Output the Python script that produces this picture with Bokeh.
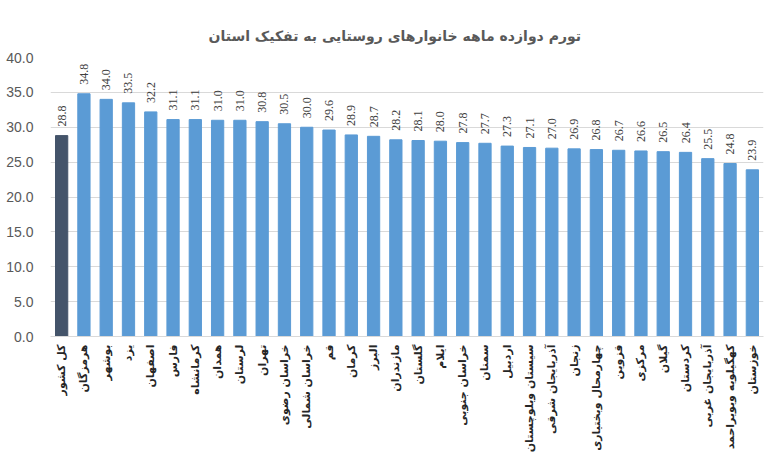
import math
from bokeh.plotting import figure
from bokeh.models import ColumnDataSource, SingleIntervalTicker, PrintfTickFormatter, Range1d, FactorRange
from bokeh.embed import file_html
from bokeh.resources import INLINE

title_text = "تورم دوازده ماهه خانوارهای روستایی به تفکیک استان"

provinces = [
    "کل کشور", "هرمزگان", "بوشهر", "یزد", "اصفهان", "فارس", "کرمانشاه", "همدان",
    "لرستان", "تهران", "خراسان رضوی", "خراسان شمالی", "قم", "کرمان", "البرز",
    "مازندران", "گلستان", "ایلام", "خراسان جنوبی", "سمنان", "اردبیل",
    "سیستان وبلوچستان", "آذربایجان شرقی", "زنجان", "چهارمحال وبختیاری", "قزوین",
    "مرکزی", "گیلان", "کردستان", "آذربایجان غربی", "کهگیلویه وبویراحمد", "خوزستان",
]
inflation = [
    28.8, 34.8, 34.0, 33.5, 32.2, 31.1, 31.1, 31.0, 31.0, 30.8, 30.5, 30.0, 29.6,
    28.9, 28.7, 28.2, 28.1, 28.0, 27.8, 27.7, 27.3, 27.1, 27.0, 26.9, 26.8, 26.7,
    26.6, 26.5, 26.4, 25.5, 24.8, 23.9,
]

NATIONAL_COLOR = "#44546A"
PROVINCE_COLOR = "#5B9BD5"
colors = [NATIONAL_COLOR if i == 0 else PROVINCE_COLOR for i in range(len(provinces))]
labels = ["%.1f" % v for v in inflation]

src = ColumnDataSource(dict(cat=provinces, val=inflation, color=colors, txt=labels))

p = figure(
    x_range=FactorRange(factors=provinces, range_padding=0),
    y_range=Range1d(0, 40),
    width=765, height=455,
    output_backend="svg", toolbar_location=None,
    min_border_left=50, min_border_right=2, min_border_top=57, min_border_bottom=113,
)
p.title.text = title_text
p.title.align = "left"
p.title.offset = 158
p.title.text_font = "DejaVu Sans"
p.title.text_font_size = "14px"
p.title.text_font_style = "bold"
p.title.text_color = "#595959"
p.title.standoff = 27

p.vbar(x="cat", top="val", width=0.55, color="color", source=src)

p.text(x="cat", y="val", text="txt", source=src, angle=math.pi / 2,
       text_align="left", text_baseline="middle", y_offset=-9,
       text_font="Liberation Sans", text_font_size="12px", text_color="#404040")

p.outline_line_color = None
p.background_fill_color = "white"
p.border_fill_color = "white"

p.xgrid.grid_line_color = None
p.ygrid.grid_line_color = "#d9d9d9"
p.ygrid.ticker = SingleIntervalTicker(interval=5)

p.yaxis.ticker = SingleIntervalTicker(interval=5)
p.yaxis.formatter = PrintfTickFormatter(format="%.1f")
p.yaxis.axis_line_color = None
p.yaxis.major_tick_line_color = None
p.yaxis.minor_tick_line_color = None
p.yaxis.major_tick_out = 0
p.yaxis.major_label_standoff = 13
p.yaxis.major_label_text_font = "Liberation Sans"
p.yaxis.major_label_text_font_size = "14px"
p.yaxis.major_label_text_color = "#595959"

p.xaxis.axis_line_color = "#d9d9d9"
p.xaxis.major_tick_line_color = None
p.xaxis.major_tick_out = 0
p.xaxis.major_label_orientation = math.pi / 2
p.xaxis.major_label_standoff = 8
p.xaxis.major_label_text_font = "DejaVu Sans"
p.xaxis.major_label_text_font_size = "11px"
p.xaxis.major_label_text_font_style = "bold"
p.xaxis.major_label_text_color = "#262626"

open("out.html", "w").write(file_html(p, INLINE))
